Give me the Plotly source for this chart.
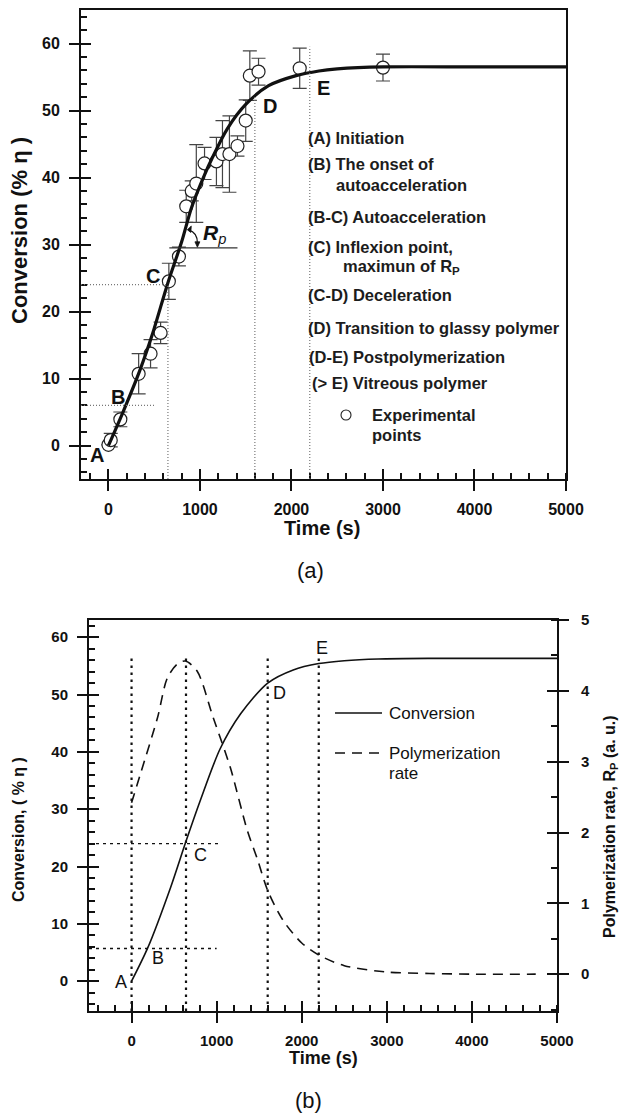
import plotly.graph_objects as go

W, H = 620, 1113
FONT = "Arial, 'Liberation Sans', sans-serif"
INK = "#111111"

# ---------------- (a) experimental conversion ----------------
exp_time = [0, 25, 130, 330, 460, 570, 660, 770, 850, 910, 960, 1050, 1180, 1246, 1322, 1410, 1500, 1545, 1640, 2090, 3000]
exp_conv = [0.1, 0.8, 3.9, 10.7, 13.7, 16.8, 24.5, 28.2, 35.7, 38.0, 39.1, 42.1, 42.4, 43.5, 43.5, 44.7, 48.5, 55.2, 55.8, 56.3, 56.4]
exp_err = [0, 1.0, 1.1, 3.0, 2.1, 1.6, 2.7, 1.4, 2.4, 1.5, 5.8, 2.4, 3.6, 5.0, 5.7, 1.5, 3.1, 3.7, 2.0, 3.0, 2.0]

# (a) fitted conversion curve
fit_time = [0, 150, 340, 480, 650, 800, 910, 1050, 1130, 1300, 1500, 1750, 2050, 2300, 2500, 3000, 4000, 5000]
fit_conv = [0, 4.7, 11.1, 16.6, 24.3, 30.4, 35.6, 40.4, 42.8, 47.3, 50.9, 53.7, 55.2, 55.9, 56.2, 56.5, 56.5, 56.5]

# ---------------- (b) model curves ----------------
model_time = [0, 190, 460, 640, 810, 1040, 1280, 1600, 1900, 2200, 2500, 2900, 3500, 5000]
model_conv = [0, 5.8, 16.4, 24.4, 31.6, 40.5, 46.6, 52.0, 54.3, 55.4, 55.9, 56.2, 56.3, 56.3]

rate_time = [0, 105, 305, 420, 540, 633, 770, 960, 1160, 1360, 1480, 1600, 1780, 2000, 2200, 2500, 3000, 3500, 4000, 4750]
rate_val = [2.42, 2.83, 3.62, 4.18, 4.38, 4.42, 4.28, 3.62, 2.92, 2.03, 1.62, 1.18, 0.76, 0.44, 0.27, 0.12, 0.03, 0.01, 0.0, 0.0]

# characteristic stages
stage_labels = ["A", "B", "C", "D", "E"]
a_stage_time = [650, 1600, 2200]
a_stage_top = [24.0, 52.0, 59.5]
a_level_conv = [24.0, 6.0]
a_level_end = [650, 500]
b_stage_time = [0, 640, 1600, 2200]
b_level_conv = [24.0, 5.7]
b_level_end = [1050, 1000]

a_notes = [
    "(A) Initiation", "(B) The onset of", "autoacceleration", "(B-C) Autoacceleration",
    "(C) Inflexion point,", "maximun of R<sub>P</sub>", "(C-D) Deceleration",
    "(D) Transition to glassy polymer", "(D-E) Postpolymerization", "(> E) Vitreous polymer",
    "Experimental", "points",
]


def px(x):
    return x / W


def py(y):
    return 1 - y / H


fig = go.Figure()

# (a) markers with error bars, curve on top
fig.add_trace(go.Scatter(
    x=exp_time, y=exp_conv, mode="markers", xaxis="x", yaxis="y",
    marker=dict(symbol="circle", size=13, color="white", line=dict(color="#222", width=1.2)),
    error_y=dict(type="data", array=exp_err, visible=True, color="#444", thickness=1.2, width=7),
    showlegend=False, hoverinfo="skip",
))
fig.add_trace(go.Scatter(
    x=fit_time, y=fit_conv, mode="lines", xaxis="x", yaxis="y",
    line=dict(color=INK, width=3.2, shape="spline", smoothing=0.8),
    showlegend=False, hoverinfo="skip",
))

# (b) conversion and polymerization rate
fig.add_trace(go.Scatter(
    x=model_time, y=model_conv, mode="lines", xaxis="x2", yaxis="y2",
    line=dict(color=INK, width=1.6, shape="spline", smoothing=0.8),
    showlegend=False, hoverinfo="skip",
))
fig.add_trace(go.Scatter(
    x=rate_time, y=rate_val, mode="lines", xaxis="x2", yaxis="y4",
    line=dict(color=INK, width=1.6, shape="spline", smoothing=0.8, dash="10px,7px"),
    showlegend=False, hoverinfo="skip",
))

# empty traces so the tick-only overlay axes get drawn
for xa, ya in [("x3", "y"), ("x", "y3"), ("x4", "y2"), ("x2", "y5"), ("x2", "y6")]:
    fig.add_trace(go.Scatter(x=[], y=[], xaxis=xa, yaxis=ya, mode="lines",
                             showlegend=False, hoverinfo="skip"))

tickfont_a = dict(family=FONT, size=16, color=INK, weight="bold")
tickfont_b = dict(family=FONT, size=15, color=INK, weight="bold")


def main_axis(domain, anchor, rng, dtick, mdtick, tickfont, standoff, **kw):
    d = dict(
        domain=domain, anchor=anchor, range=rng, tickmode="linear", tick0=0, dtick=dtick,
        ticks="outside", ticklen=10, tickwidth=2, tickcolor=INK,
        minor=dict(tickmode="linear", tick0=0, dtick=mdtick, ticks="inside", ticklen=6, tickwidth=1.6, tickcolor=INK),
        showline=True, linewidth=2, linecolor=INK, showgrid=False, zeroline=False,
        tickfont=tickfont, ticklabelstandoff=standoff, automargin=False,
    )
    d.update(kw)
    return d


def cross_axis(over, anchor, rng, dtick, **kw):
    d = dict(
        overlaying=over, anchor=anchor, range=rng, tickmode="linear", tick0=0, dtick=dtick,
        ticks="inside", ticklen=10, tickwidth=2, tickcolor=INK,
        showticklabels=False, showline=False, showgrid=False, zeroline=False, automargin=False,
    )
    d.update(kw)
    return d


xa_dom = [px(81), px(566)]
ya_dom = [py(479), py(10)]
xb_dom = [px(89), px(557)]
yb_dom = [py(1011), py(620)]

xa_rng = [-300, 5000]
ya_rng = [-5, 65]
xb_rng = [-500, 5000]
yb_rng = [-5.2, 63]
rb_rng = [-0.52, 5]

fig.update_layout(
    width=W, height=H, margin=dict(l=0, r=0, t=0, b=0, autoexpand=False),
    paper_bgcolor="white", plot_bgcolor="white", showlegend=False,
    font=dict(family=FONT, color=INK),
    xaxis=main_axis(xa_dom, "y", xa_rng, 1000, 200, tickfont_a, 5, mirror=True),
    yaxis=main_axis(ya_dom, "x", ya_rng, 10, 2, tickfont_a, 6, mirror=True),
    xaxis3=cross_axis("x", "y", xa_rng, 1000, side="bottom"),
    yaxis3=cross_axis("y", "x", ya_rng, 10, side="left"),
    xaxis2=main_axis(xb_dom, "y2", xb_rng, 1000, 200, tickfont_b, 5, mirror=True),
    yaxis2=main_axis(yb_dom, "x2", yb_rng, 10, 2, tickfont_b, 6),
    yaxis4=main_axis(yb_dom, "x2", rb_rng, 1, 0.5, tickfont_b, 9, overlaying="y2", side="right"),
    xaxis4=cross_axis("x2", "y2", xb_rng, 1000, side="bottom"),
    yaxis5=cross_axis("y2", "x2", yb_rng, 10, side="left"),
    yaxis6=cross_axis("y2", "x2", rb_rng, 1, side="right"),
)

shapes = []
# (a) guide lines
for t, top in zip(a_stage_time, a_stage_top):
    shapes.append(dict(type="line", xref="x", yref="y", x0=t, x1=t, y0=ya_rng[0], y1=top,
                       line=dict(color="#777", width=1.2, dash="1px,2px")))
for c, end in zip(a_level_conv, a_level_end):
    shapes.append(dict(type="line", xref="x", yref="y", x0=xa_rng[0], x1=end, y0=c, y1=c,
                       line=dict(color="#777", width=1.2, dash="1px,2px")))
# R_p reference line, curved arrow and its heads
shapes.append(dict(type="line", xref="x", yref="y", x0=665, x1=1410, y0=29.5, y1=29.5,
                   line=dict(color="#333", width=1.3)))
shapes.append(dict(type="path", xref="x", yref="y", path="M 875,32.2 Q 975,31.8 972,30.2",
                   line=dict(color=INK, width=1.3)))
shapes.append(dict(type="path", xref="x", yref="y", path="M 972,29.6 L 945,30.4 L 999,30.4 Z",
                   line=dict(color=INK, width=0.8), fillcolor=INK))
shapes.append(dict(type="path", xref="x", yref="y", path="M 862,32.2 L 905,32.75 L 900,31.8 Z",
                   line=dict(color=INK, width=0.8), fillcolor=INK))
# (b) guide lines
for t in b_stage_time:
    shapes.append(dict(type="line", xref="x2", yref="y2", x0=t, x1=t, y0=yb_rng[0], y1=57,
                       line=dict(color=INK, width=2.2, dash="2.5px,4.5px")))
for c, end in zip(b_level_conv, b_level_end):
    shapes.append(dict(type="line", xref="x2", yref="y2", x0=xb_rng[0], x1=end, y0=c, y1=c,
                       line=dict(color=INK, width=1.4, dash="3px,4px")))
# (a) legend marker
shapes.append(dict(type="circle", xref="paper", yref="paper", x0=px(341), x1=px(351), y0=py(420), y1=py(410),
                   line=dict(color="#222", width=1.1), fillcolor="white"))
# (b) legend samples
shapes.append(dict(type="line", xref="paper", yref="paper", x0=px(335), x1=px(382), y0=py(713), y1=py(713),
                   line=dict(color=INK, width=1.3)))
shapes.append(dict(type="line", xref="paper", yref="paper", x0=px(335), x1=px(381), y0=py(753), y1=py(753),
                   line=dict(color=INK, width=1.3, dash="10px,7px")))

ann = []


def text(x, y, s, size, bold=False, anchor="center", angle=0, ref="paper", color=INK):
    f = dict(family=FONT, size=size, color=color, weight="bold" if bold else "normal")
    if ref == "paper":
        xx, yy, xr, yr = px(x), py(y), "paper", "paper"
    else:
        xx, yy = x, y
        xr, yr = ref
    ann.append(dict(x=xx, y=yy, xref=xr, yref=yr, text=s, showarrow=False, font=f,
                    xanchor=anchor, yanchor="middle", textangle=angle, borderpad=0))


# (a) stage letters
a_label_pos = [(-120, -1.4), (100, 7.3), (490, 25.3), (1760, 50.7), (2350, 53.4)]
for lab, (x, y) in zip(stage_labels, a_label_pos):
    text(x, y, lab, 20, bold=True, ref=("x", "y"))
# (b) stage letters
b_label_pos = [(-125, -0.2), (305, 4.0), (809, 22.0), (1740, 50.2), (2240, 58.2)]
for lab, (x, y) in zip(stage_labels, b_label_pos):
    text(x, y, lab, 18, ref=("x2", "y2"))

# R_p label
text(214, 234, "<b><i>R</i></b><sub><i>p</i></sub>", 21)

# (a) stage descriptions
a_note_pos = [(307, 138), (307, 164), (335, 185), (307, 217), (307, 247), (342, 267),
              (307, 295), (307, 328), (308, 357), (311, 383), (371, 415), (371, 435)]
for s, (x, y) in zip(a_notes, a_note_pos):
    text(x, y, s, 16.5, bold=True, anchor="left", color="#1c1c1c")

# (b) legend text
text(388, 713, "Conversion", 17, anchor="left")
text(388, 753, "Polymerization", 17, anchor="left")
text(388, 773, "rate", 17, anchor="left")

# axis titles and panel tags
text(20, 231, "Conversion (% η )", 22, bold=True, angle=-90)
text(322, 528, "Time (s)", 20, bold=True)
text(310, 570, "(a)", 22)
text(18, 830, "Conversion, ( % η )", 16, bold=True, angle=-90)
text(610, 827, "Polymerization rate, R<sub>P</sub> (a. u.)", 16, bold=True, angle=-90)
text(323, 1058, "Time (s)", 18, bold=True)
text(308, 1100, "(b)", 22)

fig.update_layout(shapes=shapes, annotations=ann)
fig.write_html("out.html")
